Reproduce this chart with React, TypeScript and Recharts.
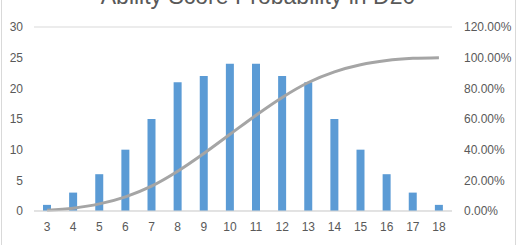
import React from 'react';
import { ComposedChart, Bar, Line, XAxis, YAxis, CartesianGrid } from 'recharts';

const scores = ['3', '4', '5', '6', '7', '8', '9', '10', '11', '12', '13', '14', '15', '16', '17', '18'];
const counts = [1, 3, 6, 10, 15, 21, 22, 24, 24, 22, 21, 15, 10, 6, 3, 1];
const cumulative = [0.0046, 0.0185, 0.0463, 0.0926, 0.162, 0.2593, 0.375, 0.5, 0.625, 0.7407, 0.838, 0.9074, 0.9537, 0.9815, 0.9954, 1];
const leftTicks = [0, 5, 10, 15, 20, 25, 30];
const rightTicks = [0, 0.2, 0.4, 0.6, 0.8, 1.0, 1.2];
const title = 'Ability Score Probability in D20';

const data = scores.map((s, i) => ({ score: s, count: counts[i], cum: cumulative[i] }));

const tickStyle = { fill: '#595959', fontSize: 12, fontFamily: 'Liberation Sans, Arial, sans-serif' };

export default function App() {
  return (
    <div style={{ position: 'absolute', left: 0, top: 0, width: 520, height: 245, background: '#fff', overflow: 'hidden' }}>
      <div style={{ position: 'absolute', left: 1, top: -10, width: 515, height: 270, borderLeft: '1px solid #D9D9D9', borderRight: '1px solid #D9D9D9', boxSizing: 'border-box' }} />
      <div style={{ position: 'absolute', left: 0, width: 516, top: -18, textAlign: 'center', fontFamily: 'Liberation Sans, Arial, sans-serif', fontSize: 23, color: '#595959', lineHeight: '28px', whiteSpace: 'nowrap' }}>{title}</div>
      <ComposedChart width={520} height={245} data={data} margin={{ top: 27, right: 0, bottom: 0, left: 0 }} barCategoryGap={0}>
        <CartesianGrid vertical={false} stroke="#D9D9D9" />
        <XAxis dataKey="score" axisLine={{ stroke: '#D9D9D9' }} tickLine={false} tick={tickStyle} height={34} tickMargin={5} interval={0} />
        <YAxis yAxisId="left" orientation="left" width={34} domain={[0, 30]} ticks={leftTicks} axisLine={false} tickLine={false} tick={tickStyle} tickMargin={5} interval={0} />
        <YAxis yAxisId="right" orientation="right" width={68} domain={[0, 1.2]} ticks={rightTicks} axisLine={false} tickLine={false} tick={tickStyle} tickMargin={6} interval={0} tickFormatter={(v: number) => (v * 100).toFixed(2) + '%'} />
        <Bar yAxisId="left" dataKey="count" fill="#5B9BD5" barSize={8} isAnimationActive={false} />
        <Line yAxisId="right" dataKey="cum" type="monotone" stroke="#A5A5A5" strokeWidth={3} dot={false} isAnimationActive={false} />
      </ComposedChart>
    </div>
  );
}
